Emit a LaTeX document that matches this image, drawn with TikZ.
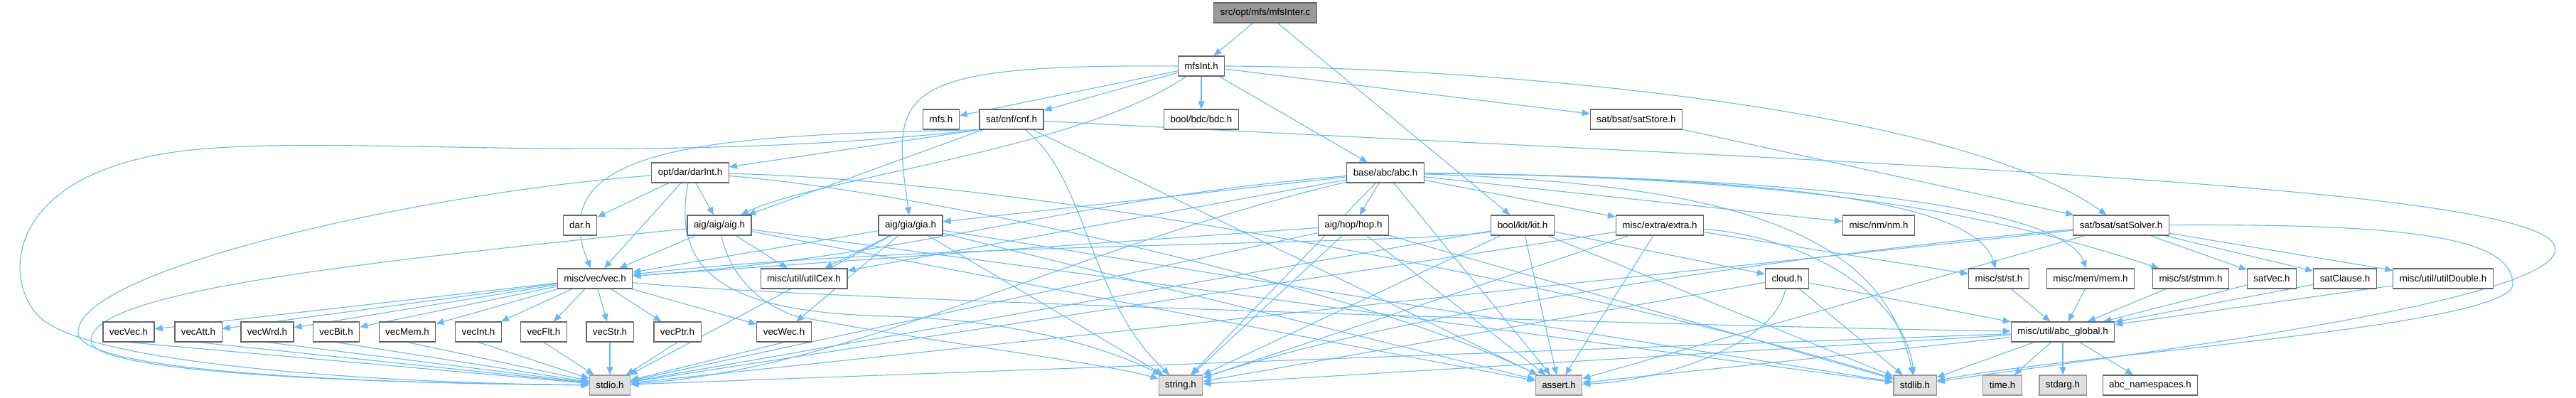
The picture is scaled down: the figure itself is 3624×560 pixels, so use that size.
\documentclass[tikz,border=0pt]{standalone}
\usepackage{fontspec}
\setmainfont{Liberation Sans}
\usepackage{xcolor}
\definecolor{EdgeBlue}{HTML}{63B8FF}
\definecolor{BoxBorder}{HTML}{666666}
\definecolor{SysBorder}{HTML}{999999}
\definecolor{SysFill}{HTML}{E0E0E0}
\definecolor{RootFill}{HTML}{999999}
\usepackage{tikz}
\usetikzlibrary{arrows.meta,backgrounds}

\begin{document}
\begin{tikzpicture}[
    x=0.5pt,y=-0.5pt,
    every node/.style={font=\fontsize{6.67}{8}\selectfont,minimum height=14pt,
      inner xsep=4.5pt,inner ysep=0pt},
    hdr/.style={draw=BoxBorder,fill=white,line width=0.6pt},
    syshdr/.style={draw=SysBorder,fill=SysFill,line width=0.6pt},
    rootfile/.style={draw=BoxBorder,fill=RootFill,line width=0.6pt},
    inc/.style={draw=EdgeBlue,line width=0.55pt,-{Triangle[length=5.5pt,width=4.5pt]}}
  ]
  \useasboundingbox (0,0) rectangle (3624,560);

  % rows of headers
  \node[rootfile] (mfsinter) at (1780,18) {src/opt/mfs/mfsInter.c};
  \node[hdr] (mfsint) at (1690,93) {mfsInt.h};
  \node[hdr] (mfs) at (1324,168) {mfs.h};
  \node[hdr] (cnf) at (1423,168) {sat/cnf/cnf.h};
  \node[hdr] (bdc) at (1690,168) {bool/bdc/bdc.h};
  \node[hdr] (satstore) at (2302,168) {sat/bsat/satStore.h};
  \node[hdr] (darint) at (971,243) {opt/dar/darInt.h};
  \node[hdr] (abc) at (1949,243) {base/abc/abc.h};
  \node[hdr] (dar) at (816,317) {dar.h};
  \node[hdr] (aig) at (1012,317) {aig/aig/aig.h};
  \node[hdr] (gia) at (1281,317) {aig/gia/gia.h};
  \node[hdr] (hop) at (1904,317) {aig/hop/hop.h};
  \node[hdr] (kit) at (2142,317) {bool/kit/kit.h};
  \node[hdr] (extra) at (2335,317) {misc/extra/extra.h};
  \node[hdr] (nm) at (2643,317) {misc/nm/nm.h};
  \node[hdr] (satsolver) at (2984,317) {sat/bsat/satSolver.h};
  \node[hdr] (vec) at (837,392) {misc/vec/vec.h};
  \node[hdr] (utilcex) at (1131,392) {misc/util/utilCex.h};
  \node[hdr] (cloud) at (2514,392) {cloud.h};
  \node[hdr] (st) at (2812,392) {misc/st/st.h};
  \node[hdr] (mem) at (2941,392) {misc/mem/mem.h};
  \node[hdr] (stmm) at (3082,392) {misc/st/stmm.h};
  \node[hdr] (satvec) at (3196,392) {satVec.h};
  \node[hdr] (satclause) at (3299,392) {satClause.h};
  \node[hdr] (utildouble) at (3437,392) {misc/util/utilDouble.h};
  \node[hdr] (vecvec) at (181,467) {vecVec.h};
  \node[hdr] (vecatt) at (279,467) {vecAtt.h};
  \node[hdr] (vecwrd) at (376,467) {vecWrd.h};
  \node[hdr] (vecbit) at (473,467) {vecBit.h};
  \node[hdr] (vecmem) at (573,467) {vecMem.h};
  \node[hdr] (vecint) at (673,467) {vecInt.h};
  \node[hdr] (vecflt) at (765,467) {vecFlt.h};
  \node[hdr] (vecstr) at (858,467) {vecStr.h};
  \node[hdr] (vecptr) at (953,467) {vecPtr.h};
  \node[hdr] (vecwec) at (1103,467) {vecWec.h};
  \node[hdr] (abcglobal) at (2902,467) {misc/util/abc\_global.h};
  \node[syshdr] (stdio) at (858,542) {stdio.h};
  \node[syshdr] (string) at (1661,542) {string.h};
  \node[syshdr] (assert) at (2193,542) {assert.h};
  \node[syshdr] (stdlib) at (2694,542) {stdlib.h};
  \node[syshdr] (time) at (2817,542) {time.h};
  \node[syshdr] (stdarg) at (2902,542) {stdarg.h};
  \node[hdr] (abcns) at (3025,542) {abc\_namespaces.h};

  \begin{scope}[on background layer]
    % straight includes
    \foreach \src/\dsts in {
        mfsinter/{mfsint,kit},
        mfsint/{mfs,cnf,bdc,abc,satstore},
        cnf/{aig,assert},
        darint/{dar,vec,aig},
        abc/{hop,gia,nm,extra,utilcex,string,assert},
        aig/{vec,utilcex,assert,stdlib},
        gia/{vec,utilcex,vecwec,stdio,string,assert,stdlib},
        hop/{vec,stdio,string,assert,stdlib},
        kit/{cloud,stdio,string,assert,stdlib},
        extra/{st,stdio,string,assert},
        cloud/{string,stdlib,abcglobal},
        satstore/{satsolver},
        satsolver/{satvec,satclause,utildouble,stdio,assert},
        st/{abcglobal}, mem/{abcglobal}, stmm/{abcglobal},
        satvec/{abcglobal}, satclause/{abcglobal}, utildouble/{abcglobal},
        vec/{vecvec,vecatt,vecwrd,vecbit,vecmem,vecint,vecflt,vecstr,vecptr,vecwec},
        abcglobal/{stdio,string,assert,stdlib,time,stdarg,abcns}}
      \foreach \dst in \dsts
        \draw[inc] (\src) -- (\dst);
    \foreach \v in {vecvec,vecatt,vecwrd,vecbit,vecmem,vecint,vecflt,vecstr,vecptr,vecwec}
      \draw[inc] (\v.south) -- (stdio);

    % routed includes
    \draw[inc] (mfsint.west) .. controls (1250,90) and (1255,130) .. (gia);
    \draw[inc] (mfsint.east) .. controls (2100,95) and (2750,150) .. (satsolver);
    \draw[inc] (mfsint) .. controls (1520,210) and (1150,250) .. (aig);
    \draw[inc] (cnf.south west) -- (darint);
    \draw[inc] (cnf.south west) .. controls (1000,190) and (760,205) .. (vec);
    \draw[inc] (cnf.south west) .. controls (900,235) and (500,190) .. (280,210)
      .. controls (0,235) and (0,400) .. (60,450)
      .. controls (150,520) and (600,540) .. (stdio);
    \draw[inc] (cnf) .. controls (1530,250) and (1530,420) .. (string);
    \draw[inc] (cnf) .. controls (2600,230) and (3590,260) .. (3595,350)
      .. controls (3600,430) and (2900,510) .. (stdlib);
    \draw[inc] (darint) .. controls (600,270) and (100,380) .. (110,470)
      .. controls (120,530) and (600,540) .. (stdio);
    \draw[inc] (darint) .. controls (940,400) and (1050,440) .. (1250,445)
      .. controls (1450,450) and (1580,500) .. (string);
    \draw[inc] (darint) .. controls (1300,270) and (1900,400) .. (assert);
    \draw[inc] (darint) .. controls (1500,255) and (2300,420) .. (stdlib);
    \draw[inc] (abc) .. controls (1500,350) and (1200,520) .. (stdio);
    \draw[inc] (abc) .. controls (1500,280) and (1300,360) .. (vec);
    \draw[inc] (abc) .. controls (2450,260) and (2650,330) .. (stdlib);
    \draw[inc] (abc) .. controls (2550,250) and (2780,290) .. (st);
    \draw[inc] (abc) .. controls (2550,250) and (2900,290) .. (mem);
    \draw[inc] (abc) .. controls (2550,250) and (2800,300) .. (stmm);
    \draw[inc] (aig) .. controls (500,370) and (125,410) .. (128,480)
      .. controls (130,530) and (600,540) .. (stdio);
    \draw[inc] (aig) .. controls (1025,380) and (1060,425) .. (1120,445)
      .. controls (1300,480) and (1550,510) .. (string);
    \draw[inc] (kit) .. controls (2000,345) and (1300,340) .. (vec);
    \draw[inc] (extra) .. controls (2550,335) and (2680,420) .. (stdlib);
    \draw[inc] (cloud) .. controls (2500,480) and (2350,535) .. (assert);
    \draw[inc] (satsolver) .. controls (2600,350) and (2000,430) .. (string);
    \draw[inc] (satsolver) .. controls (3370,315) and (3535,330) .. (3535,400)
      .. controls (3535,460) and (2900,500) .. (stdlib);
    \draw[inc] (vec) .. controls (1100,420) and (2400,460) .. (abcglobal);
  \end{scope}
\end{tikzpicture}
\end{document}
